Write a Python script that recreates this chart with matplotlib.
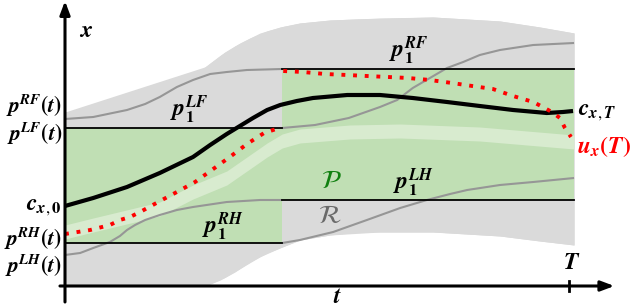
import numpy as np
import matplotlib
matplotlib.use("Agg")
import matplotlib.pyplot as plt

plt.rcParams['mathtext.fontset'] = 'stix'
plt.rcParams['font.family'] = ['STIXGeneral', 'DejaVu Serif']

# ---------------- data (t normalised so that T = 1) ----------------
T_END = 1.0
t_switch = 0.431      # switch of support phase
t_last = 1.010        # end of drawn regions

# contact bounds (levels)
pLF_level = 3.16
pRF_level = 4.34
pRH_level = 0.86
pLH_level = 1.72

# reachable region R boundaries
R_t = [0, 0.069, 0.129, 0.188, 0.222, 0.254, 0.288, 0.317, 0.347, 0.387, 0.427, 0.466,
       0.526, 0.625, 0.730, 0.863, 0.942, 1.010]
R_top = [3.48, 3.56, 3.66, 3.86, 4.02, 4.20, 4.46, 4.68, 4.86, 5.06, 5.18, 5.26,
         5.32, 5.36, 5.38, 5.30, 5.18, 5.06]
Rb_t = [0, 0.278, 0.308, 0.337, 0.367, 0.401, 0.431, 0.466, 0.526, 0.585, 0.730, 0.863, 0.942, 1.010]
R_bot = [0.0, 0.0, 0.12, 0.28, 0.48, 0.66, 0.78, 0.92, 1.02, 1.08, 1.08, 1.00, 0.90, 0.82]

# light stripe inside P
band_t = [0, 0.056, 0.188, 0.254, 0.321, 0.361, 0.401, 0.431, 0.466, 0.565, 0.665, 0.823, 1.010]
band_c = [1.08, 1.22, 1.54, 1.88, 2.16, 2.44, 2.72, 2.90, 3.00, 3.08, 3.10, 3.04, 2.88]
band_hw = 0.14

# CoM trajectory c_x
cx_t = [0, 0.056, 0.123, 0.188, 0.254, 0.288, 0.321, 0.347, 0.373, 0.401, 0.427, 0.460,
        0.492, 0.560, 0.625, 0.690, 0.758, 0.823, 0.889, 0.956, 0.988, 1.008]
cx_x = [1.60, 1.76, 1.98, 2.26, 2.58, 2.82, 3.04, 3.20, 3.36, 3.52, 3.62, 3.70,
        3.76, 3.82, 3.82, 3.76, 3.68, 3.60, 3.52, 3.46, 3.48, 3.50]

# u_x, two pieces
u1_t = [0.0, 0.050, 0.089, 0.109, 0.129, 0.149, 0.185, 0.222, 0.258, 0.294, 0.327, 0.361, 0.395, 0.419]
u1_x = [1.04, 1.12, 1.22, 1.32, 1.38, 1.48, 1.68, 1.88, 2.08, 2.34, 2.58, 2.84, 3.06, 3.14]
u2_t = [0.433, 0.472, 0.516, 0.560, 0.599, 0.641, 0.681, 0.724, 0.768, 0.808, 0.849, 0.889,
        0.929, 0.948, 0.966, 0.982, 0.992, 1.004]
u2_x = [4.30, 4.28, 4.24, 4.22, 4.20, 4.18, 4.16, 4.12, 4.06, 4.00, 3.94, 3.80,
        3.68, 3.58, 3.48, 3.36, 3.16, 2.98]

# foot trajectories p1
pLF_t = [0, 0.056, 0.123, 0.159, 0.188, 0.222, 0.254, 0.288, 0.321, 0.361, 0.431]
pLF_x = [3.34, 3.38, 3.52, 3.64, 3.78, 3.98, 4.12, 4.24, 4.28, 4.32, 4.34]
pRF_t = [0.431, 0.496, 0.563, 0.625, 0.659, 0.690, 0.724, 0.758, 0.790, 0.823, 0.863, 0.929, 1.010]
pRF_x = [3.16, 3.22, 3.36, 3.58, 3.72, 3.96, 4.16, 4.36, 4.48, 4.62, 4.72, 4.82, 4.86]
pRH_t = [0, 0.030, 0.056, 0.089, 0.109, 0.123, 0.139, 0.159, 0.188, 0.222, 0.254, 0.321, 0.387, 0.431]
pRH_x = [0.62, 0.66, 0.76, 0.88, 1.00, 1.12, 1.22, 1.32, 1.42, 1.52, 1.58, 1.68, 1.72, 1.72]
pLH_t = [0.431, 0.466, 0.532, 0.599, 0.665, 0.718, 0.764, 0.798, 0.863, 0.929, 1.010]
pLH_x = [0.86, 0.92, 1.08, 1.32, 1.56, 1.72, 1.84, 1.92, 2.02, 2.08, 2.16]

# ---------------- figure ----------------
fig = plt.figure(figsize=(6.34, 3.08), dpi=100)
ax = fig.add_axes([0, 0, 1, 1])
ax.set_xlim(-65 / 504, 569 / 504)
ax.set_ylim(-0.44, 5.72)
ax.axis('off')

GREEN = '#c0dfb4'
BAND = '#d8ebcf'
GREYR = '#dadada'
GLINE = '#969696'

# reachable region
ax.fill_between(R_t, R_top, np.interp(R_t, Rb_t, R_bot), color=GREYR, lw=0, zorder=1)
ax.fill_between(Rb_t, np.interp(Rb_t, R_t, R_top), R_bot, color=GREYR, lw=0, zorder=1)

# feasible region P
ax.fill_between([0, t_switch], pRH_level, pLF_level, color=GREEN, lw=0, zorder=2)
ax.fill_between([t_switch, t_last], pLH_level, pRF_level, color=GREEN, lw=0, zorder=2)
bc = np.array(band_c)
ax.fill_between(band_t, bc - band_hw, bc + band_hw, color=BAND, lw=0, zorder=2.5)

# foot trajectories
for tt, xx in [(pLF_t, pLF_x), (pRF_t, pRF_x), (pRH_t, pRH_x), (pLH_t, pLH_x)]:
    ax.plot(tt, xx, color=GLINE, lw=1.5, zorder=3, solid_capstyle='butt', solid_joinstyle='round')

# bounds
ax.plot([0, t_switch], [pLF_level] * 2, color='black', lw=1.3, zorder=4)
ax.plot([0, t_switch], [pRH_level] * 2, color='black', lw=1.3, zorder=4)
ax.plot([t_switch, t_last], [pRF_level] * 2, color='black', lw=1.3, zorder=4)
ax.plot([t_switch, t_last], [pLH_level] * 2, color='black', lw=1.3, zorder=4)

# c_x
ax.plot(cx_t, cx_x, color='black', lw=3.0, zorder=5, solid_capstyle='butt', solid_joinstyle='round')
# u_x
for tt, xx in [(u1_t, u1_x), (u2_t, u2_x)]:
    ax.plot(tt, xx, color='#ff0000', lw=2.8, ls=(0, (1, 2.0)), zorder=6)

# axes arrows
ax.annotate('', xy=(0, 5.70), xytext=(0, -0.32),
            arrowprops=dict(arrowstyle='-|>,head_length=0.8,head_width=0.3', color='black', lw=2.2,
                            shrinkA=0, shrinkB=0), zorder=7)
ax.annotate('', xy=(1.090, 0), xytext=(-0.01, 0),
            arrowprops=dict(arrowstyle='-|>,head_length=0.8,head_width=0.3', color='black', lw=2.2,
                            shrinkA=0, shrinkB=0), zorder=7)
ax.plot([T_END, T_END], [-0.10, 0.10], color='black', lw=2.0, zorder=7)

fs = 17
bt = dict(fontsize=fs, zorder=8)
ax.text(0.042, 5.10, r'$\mathbfit{x}$', ha='center', va='center', **bt)
ax.text(0.541, -0.22, r'$\mathbfit{t}$', ha='center', va='center', **bt)
ax.text(T_END + 0.006, 0.46, r'$\mathbfit{T}$', ha='center', va='center', **bt)

lx = -0.006
lt = dict(fontsize=15.5, zorder=8)
ax.text(lx, 3.60, r'$\mathbfit{p}^{\mathbfit{RF}}\mathbf{(}\mathbfit{t}\mathbf{)}$', ha='right', va='center', **lt)
ax.text(lx, 3.04, r'$\mathbfit{p}^{\mathbfit{LF}}\mathbf{(}\mathbfit{t}\mathbf{)}$', ha='right', va='center', **lt)
ax.text(lx, 1.58, r'$\mathbfit{c}_{\mathbfit{x},\mathbf{0}}$', ha='right', va='center', **bt)
ax.text(lx, 0.94, r'$\mathbfit{p}^{\mathbfit{RH}}\mathbf{(}\mathbfit{t}\mathbf{)}$', ha='right', va='center', **lt)
ax.text(lx, 0.40, r'$\mathbfit{p}^{\mathbfit{LH}}\mathbf{(}\mathbfit{t}\mathbf{)}$', ha='right', va='center', **lt)

ax.text(0.246, 3.52, r'$\mathbfit{p}_{\mathbf{1}}^{\mathbfit{LF}}$', ha='center', va='center', **bt)
ax.text(0.681, 4.70, r'$\mathbfit{p}_{\mathbf{1}}^{\mathbfit{RF}}$', ha='center', va='center', **bt)
ax.text(0.312, 1.18, r'$\mathbfit{p}_{\mathbf{1}}^{\mathbfit{RH}}$', ha='center', va='center', **bt)
ax.text(0.690, 2.06, r'$\mathbfit{p}_{\mathbf{1}}^{\mathbfit{LH}}$', ha='center', va='center', **bt)

ax.text(0.528, 2.08, r'$\mathcal{P}$', ha='center', va='center', color='#108010', fontsize=19, zorder=8)
ax.text(0.526, 1.38, r'$\mathcal{R}$', ha='center', va='center', color='#6a6a6a', fontsize=19, zorder=8)

ax.text(1.018, 3.48, r'$\mathbfit{c}_{\mathbfit{x},\mathbfit{T}}$', ha='left', va='center', **bt)
ax.text(1.016, 2.78, r'$\mathbfit{u}_{\mathbfit{x}}\mathbf{(}\mathbfit{T}\mathbf{)}$', ha='left', va='center',
        color='#ff0000', fontsize=fs, zorder=8)

fig.savefig('out.png', dpi=100)
